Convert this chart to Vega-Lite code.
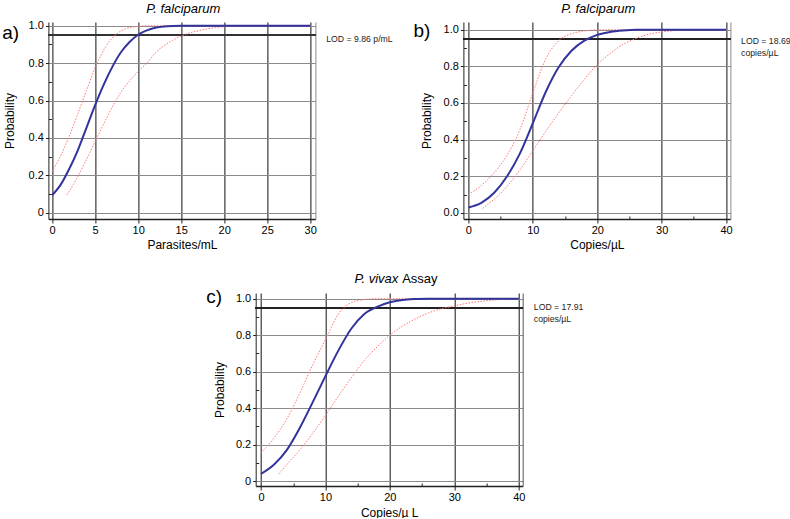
{
  "$schema": "https://vega.github.io/schema/vega-lite/v6.json",
  "padding": {"left": 2, "top": 2, "right": 0, "bottom": 0},
  "config": {
    "view": {"stroke": null},
    "font": "Liberation Sans",
    "line": {"interpolate": "monotone"},
    "axis": {"labelFont": "Liberation Sans", "labelFontSize": 11, "labelColor": "#000", "titleFont": "Liberation Sans", "titleFontSize": 12, "titleFontWeight": "normal", "titleColor": "#000", "domainColor": "#222", "tickColor": "#222", "gridOpacity": 1, "labelFlush": false, "labelOverlap": false}
  },
  "spacing": 22,
  "center": true,
  "vconcat": [
    {
      "spacing": 148,
      "bounds": "flush",
      "hconcat": [
        {
          "width": 267, "height": 197,
          "data": {"values": [
            {"s":"est","x":0,"p":0.093},{"s":"est","x":1,"p":0.15},{"s":"est","x":2,"p":0.235},{"s":"est","x":3,"p":0.335},{"s":"est","x":4,"p":0.455},{"s":"est","x":5,"p":0.575},{"s":"est","x":6,"p":0.685},{"s":"est","x":7,"p":0.78},{"s":"est","x":8,"p":0.858},{"s":"est","x":9,"p":0.913},{"s":"est","x":10,"p":0.952},{"s":"est","x":11,"p":0.975},{"s":"est","x":12,"p":0.989},{"s":"est","x":13,"p":0.996},{"s":"est","x":14,"p":0.999},{"s":"est","x":15,"p":1.0},{"s":"est","x":20,"p":1.0},{"s":"est","x":30,"p":1.0},
            {"s":"hi","x":0,"p":0.22},{"s":"hi","x":1,"p":0.305},{"s":"hi","x":2,"p":0.41},{"s":"hi","x":3,"p":0.53},{"s":"hi","x":4,"p":0.655},{"s":"hi","x":5,"p":0.775},{"s":"hi","x":6,"p":0.87},{"s":"hi","x":7,"p":0.935},{"s":"hi","x":8,"p":0.972},{"s":"hi","x":9,"p":0.99},{"s":"hi","x":10,"p":0.997},{"s":"hi","x":11,"p":1.0},{"s":"hi","x":30,"p":1.0},
            {"s":"lo","x":1.7,"p":0.095},{"s":"lo","x":2,"p":0.115},{"s":"lo","x":3,"p":0.195},{"s":"lo","x":4,"p":0.285},{"s":"lo","x":5,"p":0.38},{"s":"lo","x":6,"p":0.475},{"s":"lo","x":7,"p":0.565},{"s":"lo","x":8,"p":0.645},{"s":"lo","x":9,"p":0.705},{"s":"lo","x":10,"p":0.755},{"s":"lo","x":11,"p":0.8},{"s":"lo","x":12,"p":0.855},{"s":"lo","x":13,"p":0.893},{"s":"lo","x":14,"p":0.922},{"s":"lo","x":15,"p":0.945},{"s":"lo","x":16,"p":0.962},{"s":"lo","x":17,"p":0.973},{"s":"lo","x":18,"p":0.983},{"s":"lo","x":19,"p":0.99},{"s":"lo","x":20,"p":0.995},{"s":"lo","x":22,"p":0.999},{"s":"lo","x":25,"p":1.0},{"s":"lo","x":30,"p":1.0}
          ]},
          "layer": [
            {"data": {"values": [{}]}, "mark": {"type": "point", "opacity": 0},
             "encoding": {
               "x": {"datum": 0, "type": "quantitative", "scale": {"domain": [-0.43, 30.6], "nice": false, "zero": false}, "axis": {"orient": "top", "domain": false, "ticks": false, "labels": false, "grid": false, "title": null}},
               "y": {"datum": 0.5, "type": "quantitative", "scale": {"domain": [-0.034, 1.02], "nice": false, "zero": false}, "axis": {"orient": "right", "domain": true, "domainColor": "#8a8a8a", "ticks": false, "labels": false, "grid": false, "title": null}}
             }},
            {"data": {"values": [{}]}, "mark": {"type": "point", "opacity": 0},
             "encoding": {
               "x": {"datum": 0, "type": "quantitative", "axis": null},
               "y": {"datum": 0.5, "type": "quantitative", "axis": {"orient": "left", "values": [0.1, 0.3, 0.5, 0.7, 0.9], "domain": false, "tickSize": -3, "labels": false, "grid": false, "title": null}}
             }},
            {"mark": {"type": "rule", "color": "#333", "strokeWidth": 1.6},
             "encoding": {"y": {"datum": 0.95, "type": "quantitative", "axis": null}}},
            {"transform": [{"filter": "datum.s == 'hi'"}],
             "mark": {"type": "line", "color": "#ff7676", "strokeWidth": 1, "strokeDash": [1.5, 1.5]},
             "encoding": {"x": {"field": "x", "type": "quantitative", "axis": null}, "y": {"field": "p", "type": "quantitative", "axis": null}}},
            {"transform": [{"filter": "datum.s == 'lo'"}],
             "mark": {"type": "line", "color": "#ff7676", "strokeWidth": 1, "strokeDash": [1.5, 1.5]},
             "encoding": {"x": {"field": "x", "type": "quantitative", "axis": null}, "y": {"field": "p", "type": "quantitative", "axis": null}}},
            {"transform": [{"filter": "datum.s == 'est'"}],
             "mark": {"type": "line", "color": "#33339c", "strokeWidth": 2},
             "encoding": {
               "x": {"field": "x", "type": "quantitative", "axis": {"orient": "bottom", "values": [0, 5, 10, 15, 20, 25, 30], "grid": true, "gridColor": "#111", "tickSize": 4, "labelPadding": 1, "title": "Parasites/mL", "titlePadding": 4, "domainWidth": 1.5}},
               "y": {"field": "p", "type": "quantitative", "axis": {"orient": "left", "values": [0, 0.2, 0.4, 0.6, 0.8, 1], "labelExpr": "datum.value == 0 ? '0' : format(datum.value, '.1f')", "grid": true, "gridColor": "#8a8a8a", "tickSize": 3, "labelPadding": 2, "title": "Probability", "titlePadding": 12}}
             }},
            {"data": {"values": [{}]}, "mark": {"type": "text", "text": "a)", "fontSize": 19, "align": "left", "baseline": "middle", "color": "#000"},
             "encoding": {"x": {"datum": -5.8, "type": "quantitative", "axis": null}, "y": {"datum": 0.96, "type": "quantitative", "axis": null}}},
            {"data": {"values": [{}]}, "mark": {"type": "text", "text": "P. falciparum", "fontSize": 13, "fontStyle": "italic", "align": "center", "baseline": "middle", "color": "#000"},
             "encoding": {"x": {"datum": 15.25, "type": "quantitative", "axis": null}, "y": {"datum": 1.091, "type": "quantitative", "axis": null}}},
            {"data": {"values": [{}]}, "mark": {"type": "text", "text": "LOD = 9.86 p/mL", "fontSize": 8.7, "align": "left", "baseline": "alphabetic", "color": "#222"},
             "encoding": {"x": {"datum": 31.86, "type": "quantitative", "axis": null}, "y": {"datum": 0.914, "type": "quantitative", "axis": null}}}
          ]
        },
        {
          "width": 267, "height": 197,
          "data": {"values": [
            {"s":"est","x":0,"p":0.03},{"s":"est","x":2,"p":0.055},{"s":"est","x":4,"p":0.11},{"s":"est","x":6,"p":0.2},{"s":"est","x":8,"p":0.325},{"s":"est","x":10,"p":0.49},{"s":"est","x":12,"p":0.66},{"s":"est","x":14,"p":0.795},{"s":"est","x":16,"p":0.885},{"s":"est","x":18,"p":0.94},{"s":"est","x":20,"p":0.972},{"s":"est","x":22,"p":0.988},{"s":"est","x":24,"p":0.996},{"s":"est","x":26,"p":1.0},{"s":"est","x":40,"p":1.0},
            {"s":"hi","x":0,"p":0.1},{"s":"hi","x":2,"p":0.15},{"s":"hi","x":4,"p":0.22},{"s":"hi","x":6,"p":0.315},{"s":"hi","x":8,"p":0.455},{"s":"hi","x":10,"p":0.655},{"s":"hi","x":12,"p":0.84},{"s":"hi","x":14,"p":0.94},{"s":"hi","x":16,"p":0.978},{"s":"hi","x":18,"p":0.993},{"s":"hi","x":20,"p":0.999},{"s":"hi","x":22,"p":1.0},{"s":"hi","x":40,"p":1.0},
            {"s":"lo","x":2.2,"p":0.025},{"s":"lo","x":3,"p":0.048},{"s":"lo","x":4,"p":0.075},{"s":"lo","x":5,"p":0.108},{"s":"lo","x":6,"p":0.145},{"s":"lo","x":8,"p":0.235},{"s":"lo","x":10,"p":0.34},{"s":"lo","x":12,"p":0.445},{"s":"lo","x":14,"p":0.545},{"s":"lo","x":16,"p":0.64},{"s":"lo","x":18,"p":0.73},{"s":"lo","x":20,"p":0.81},{"s":"lo","x":22,"p":0.87},{"s":"lo","x":24,"p":0.92},{"s":"lo","x":26,"p":0.952},{"s":"lo","x":28,"p":0.975},{"s":"lo","x":30,"p":0.988},{"s":"lo","x":32,"p":0.995},{"s":"lo","x":35,"p":1.0},{"s":"lo","x":40,"p":1.0}
          ]},
          "layer": [
            {"data": {"values": [{}]}, "mark": {"type": "point", "opacity": 0},
             "encoding": {
               "x": {"datum": 0, "type": "quantitative", "scale": {"domain": [-0.78, 40.67], "nice": false, "zero": false}, "axis": {"orient": "top", "domain": false, "ticks": false, "labels": false, "grid": false, "title": null}},
               "y": {"datum": 0.5, "type": "quantitative", "scale": {"domain": [-0.033, 1.042], "nice": false, "zero": false}, "axis": {"orient": "right", "domain": true, "domainColor": "#8a8a8a", "ticks": false, "labels": false, "grid": false, "title": null}}
             }},
            {"data": {"values": [{}]}, "mark": {"type": "point", "opacity": 0},
             "encoding": {
               "x": {"datum": 0, "type": "quantitative", "axis": {"orient": "bottom", "values": [5, 15, 25, 35], "domain": false, "tickSize": -3, "labels": false, "grid": false, "title": null}},
               "y": {"datum": 0.5, "type": "quantitative", "axis": {"orient": "left", "values": [0.1, 0.3, 0.5, 0.7, 0.9], "domain": false, "tickSize": -3, "labels": false, "grid": false, "title": null}}
             }},
            {"mark": {"type": "rule", "color": "#222", "strokeWidth": 1.6},
             "encoding": {"y": {"datum": 0.95, "type": "quantitative", "axis": null}}},
            {"transform": [{"filter": "datum.s == 'hi'"}],
             "mark": {"type": "line", "color": "#ff7676", "strokeWidth": 1, "strokeDash": [1.5, 1.5]},
             "encoding": {"x": {"field": "x", "type": "quantitative", "axis": null}, "y": {"field": "p", "type": "quantitative", "axis": null}}},
            {"transform": [{"filter": "datum.s == 'lo'"}],
             "mark": {"type": "line", "color": "#ff7676", "strokeWidth": 1, "strokeDash": [1.5, 1.5]},
             "encoding": {"x": {"field": "x", "type": "quantitative", "axis": null}, "y": {"field": "p", "type": "quantitative", "axis": null}}},
            {"transform": [{"filter": "datum.s == 'est'"}],
             "mark": {"type": "line", "color": "#33339c", "strokeWidth": 2},
             "encoding": {
               "x": {"field": "x", "type": "quantitative", "axis": {"orient": "bottom", "values": [0, 10, 20, 30, 40], "grid": true, "gridColor": "#111", "tickSize": 4, "labelPadding": 1, "title": "Copies/µL", "titlePadding": 4, "domainWidth": 1.5}},
               "y": {"field": "p", "type": "quantitative", "axis": {"orient": "left", "values": [0, 0.2, 0.4, 0.6, 0.8, 1], "format": ".1f", "grid": true, "gridColor": "#8a8a8a", "tickSize": 3, "labelPadding": 2, "title": "Probability", "titlePadding": 10}}
             }},
            {"data": {"values": [{}]}, "mark": {"type": "text", "text": "b)", "fontSize": 19, "align": "left", "baseline": "middle", "color": "#000"},
             "encoding": {"x": {"datum": -8.53, "type": "quantitative", "axis": null}, "y": {"datum": 0.993, "type": "quantitative", "axis": null}}},
            {"data": {"values": [{}]}, "mark": {"type": "text", "text": "P. falciparum", "fontSize": 13, "fontStyle": "italic", "align": "center", "baseline": "middle", "color": "#000"},
             "encoding": {"x": {"datum": 20.16, "type": "quantitative", "axis": null}, "y": {"datum": 1.113, "type": "quantitative", "axis": null}}},
            {"data": {"values": [{}]}, "mark": {"type": "text", "text": "LOD = 18.69\ncopies/µL", "lineBreak": "\n", "lineHeight": 12.5, "fontSize": 8.7, "align": "left", "baseline": "alphabetic", "color": "#222"},
             "encoding": {"x": {"datum": 42.33, "type": "quantitative", "axis": null}, "y": {"datum": 0.924, "type": "quantitative", "axis": null}}}
          ]
        }
      ]
    },
    {
      "width": 267, "height": 193,
      "data": {"values": [
        {"s":"est","x":0,"p":0.04},{"s":"est","x":2,"p":0.09},{"s":"est","x":4,"p":0.17},{"s":"est","x":6,"p":0.29},{"s":"est","x":8,"p":0.43},{"s":"est","x":10,"p":0.575},{"s":"est","x":12,"p":0.715},{"s":"est","x":14,"p":0.835},{"s":"est","x":16,"p":0.915},{"s":"est","x":18,"p":0.955},{"s":"est","x":20,"p":0.98},{"s":"est","x":22,"p":0.993},{"s":"est","x":24,"p":0.998},{"s":"est","x":26,"p":1.0},{"s":"est","x":40,"p":1.0},
        {"s":"hi","x":0,"p":0.155},{"s":"hi","x":2,"p":0.235},{"s":"hi","x":4,"p":0.34},{"s":"hi","x":6,"p":0.48},{"s":"hi","x":8,"p":0.635},{"s":"hi","x":10,"p":0.775},{"s":"hi","x":12,"p":0.915},{"s":"hi","x":13,"p":0.955},{"s":"hi","x":14,"p":0.978},{"s":"hi","x":16,"p":0.995},{"s":"hi","x":18,"p":1.0},{"s":"hi","x":40,"p":1.0},
        {"s":"lo","x":2.8,"p":0.04},{"s":"lo","x":4,"p":0.09},{"s":"lo","x":6,"p":0.17},{"s":"lo","x":8,"p":0.26},{"s":"lo","x":10,"p":0.36},{"s":"lo","x":12,"p":0.465},{"s":"lo","x":14,"p":0.565},{"s":"lo","x":16,"p":0.66},{"s":"lo","x":18,"p":0.735},{"s":"lo","x":20,"p":0.8},{"s":"lo","x":22,"p":0.85},{"s":"lo","x":24,"p":0.89},{"s":"lo","x":26,"p":0.922},{"s":"lo","x":28,"p":0.945},{"s":"lo","x":30,"p":0.96},{"s":"lo","x":32,"p":0.975},{"s":"lo","x":34,"p":0.985},{"s":"lo","x":36,"p":0.992},{"s":"lo","x":38,"p":0.997},{"s":"lo","x":40,"p":1.0}
      ]},
      "layer": [
        {"data": {"values": [{}]}, "mark": {"type": "point", "opacity": 0},
         "encoding": {
           "x": {"datum": 0, "type": "quantitative", "scale": {"domain": [-0.82, 40.6], "nice": false, "zero": false}, "axis": {"orient": "top", "domain": false, "ticks": false, "labels": false, "grid": false, "title": null}},
           "y": {"datum": 0.5, "type": "quantitative", "scale": {"domain": [-0.027, 1.031], "nice": false, "zero": false}, "axis": {"orient": "right", "domain": true, "domainColor": "#555", "ticks": false, "labels": false, "grid": false, "title": null}}
         }},
        {"data": {"values": [{}]}, "mark": {"type": "point", "opacity": 0},
         "encoding": {
           "x": {"datum": 0, "type": "quantitative", "axis": {"orient": "bottom", "values": [5, 15, 25, 35], "domain": false, "tickSize": -3, "labels": false, "grid": false, "title": null}},
           "y": {"datum": 0.5, "type": "quantitative", "axis": {"orient": "left", "values": [0.1, 0.3, 0.5, 0.7, 0.9], "domain": false, "tickSize": -3, "labels": false, "grid": false, "title": null}}
         }},
        {"mark": {"type": "rule", "color": "#222", "strokeWidth": 1.6},
         "encoding": {"y": {"datum": 0.95, "type": "quantitative", "axis": null}}},
        {"transform": [{"filter": "datum.s == 'hi'"}],
         "mark": {"type": "line", "color": "#ff7676", "strokeWidth": 1, "strokeDash": [1.5, 1.5]},
         "encoding": {"x": {"field": "x", "type": "quantitative", "axis": null}, "y": {"field": "p", "type": "quantitative", "axis": null}}},
        {"transform": [{"filter": "datum.s == 'lo'"}],
         "mark": {"type": "line", "color": "#ff7676", "strokeWidth": 1, "strokeDash": [1.5, 1.5]},
         "encoding": {"x": {"field": "x", "type": "quantitative", "axis": null}, "y": {"field": "p", "type": "quantitative", "axis": null}}},
        {"transform": [{"filter": "datum.s == 'est'"}],
         "mark": {"type": "line", "color": "#33339c", "strokeWidth": 2},
         "encoding": {
           "x": {"field": "x", "type": "quantitative", "axis": {"orient": "bottom", "values": [0, 10, 20, 30, 40], "grid": true, "gridColor": "#111", "tickSize": 4, "labelPadding": 1, "title": "Copies/µ L", "titlePadding": 5, "domainWidth": 1.5}},
           "y": {"field": "p", "type": "quantitative", "axis": {"orient": "left", "values": [0, 0.2, 0.4, 0.6, 0.8, 1], "labelExpr": "datum.value == 0 ? '0' : format(datum.value, '.1f')", "grid": true, "gridColor": "#8a8a8a", "tickSize": 3, "labelPadding": 2, "title": "Probability", "titlePadding": 9}}
         }},
        {"data": {"values": [{}]}, "mark": {"type": "text", "text": "c)", "fontSize": 19, "align": "left", "baseline": "middle", "color": "#000"},
         "encoding": {"x": {"datum": -8.48, "type": "quantitative", "axis": null}, "y": {"datum": 1.009, "type": "quantitative", "axis": null}}},
        {"data": {"values": [{}]}, "mark": {"type": "text", "text": "P. vivax", "fontSize": 13, "fontStyle": "italic", "align": "right", "baseline": "middle", "color": "#000"},
         "encoding": {"x": {"datum": 21.3, "type": "quantitative", "axis": null}, "y": {"datum": 1.11, "type": "quantitative", "axis": null}}},
        {"data": {"values": [{}]}, "mark": {"type": "text", "text": "Assay", "fontSize": 13, "align": "left", "baseline": "middle", "color": "#000"},
         "encoding": {"x": {"datum": 21.9, "type": "quantitative", "axis": null}, "y": {"datum": 1.11, "type": "quantitative", "axis": null}}},
        {"data": {"values": [{}]}, "mark": {"type": "text", "text": "LOD = 17.91\ncopies/µL", "lineBreak": "\n", "lineHeight": 12.5, "fontSize": 8.7, "align": "left", "baseline": "alphabetic", "color": "#222"},
         "encoding": {"x": {"datum": 42.33, "type": "quantitative", "axis": null}, "y": {"datum": 0.938, "type": "quantitative", "axis": null}}}
      ]
    }
  ]
}
